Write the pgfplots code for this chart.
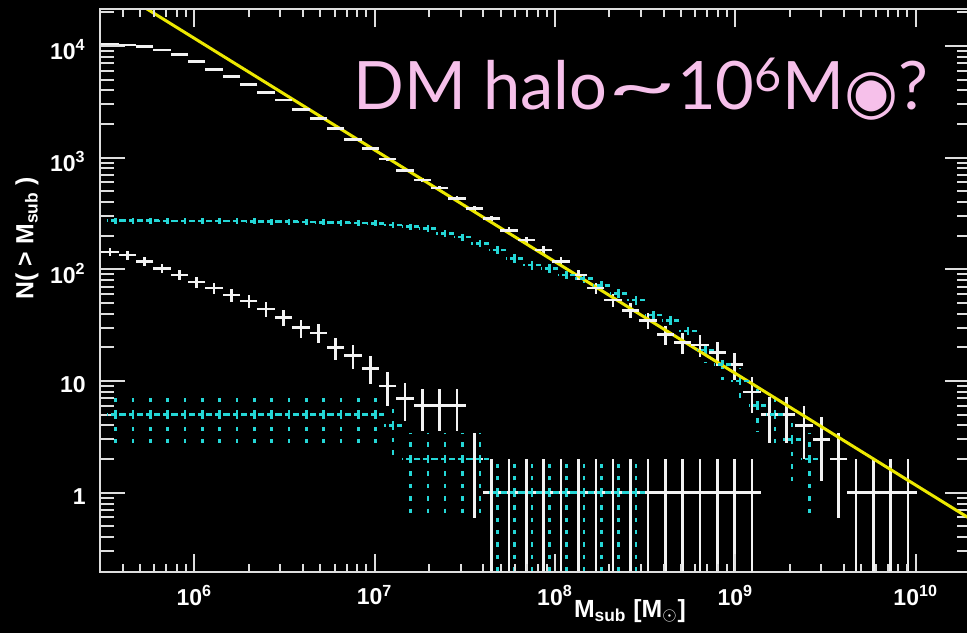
\documentclass[border=0pt]{standalone}
\usepackage{fontspec}
\setmainfont{Liberation Sans}
\newfontfamily\titlefont{Lato}
\newfontfamily\symbolfont{DejaVu Sans}
\usepackage{graphicx}
\usepackage{pgfplots}
\usepackage{pgfplotstable}
\pgfplotsset{compat=1.18}

\definecolor{framegray}{RGB}{222,222,222}
\definecolor{ptwhite}{RGB}{242,242,242}
\definecolor{ptcyan}{RGB}{36,214,214}
\definecolor{fityellow}{RGB}{236,232,0}
\definecolor{titlepink}{RGB}{246,192,234}

\tikzset{ticklab/.style={font=\bfseries\fontsize{11.5}{12}\selectfont, text=white, inner sep=0pt}}

% one bin of 0.0962 dex spans 8.68pt on this x scale: the '-' mark shows the bin width
\pgfplotsset{
  whitebins/.style={only marks, mark=-, mark size=4.34pt, ptwhite,
    mark options={line width=1.3pt, solid},
    error bars/.cd, y dir=both, y explicit, error mark=none,
    error bar style={ptwhite, line width=1.3pt, solid}},
  cyanbins/.style={only marks, mark=-, mark size=4.34pt, ptcyan,
    mark options={line width=1.3pt, dash pattern=on 2.5pt off 1.5pt},
    error bars/.cd, y dir=both, y explicit, error mark=none,
    error bar style={ptcyan, line width=1.3pt, dash pattern=on 2.2pt off 4pt}},
}

% cumulative subhalo counts: bin centre logM = log10(M_sub/M_sun),
% count y with Poisson errors ep (upper) and em (lower)
\pgfplotstableread{
logM y ep em
5.5326 10400 102 102
5.6288 10200 101 101
5.7250 9840 99 99
5.8212 9190 96 96
5.9174 8410 92 92
6.0136 7230 85 85
6.1098 6170 79 79
6.2060 5300 73 73
6.3022 4530 67 67
6.3984 3810 62 62
6.4946 3280 57 57
6.5908 2710 52 52
6.6870 2250 47 47
6.7832 1830 43 43
6.8794 1460 38 38
6.9756 1210 35 35
7.0718 970 31 31
7.1680 770 28 28
7.2642 630 25 25
7.3604 534 23 23
7.4566 433 21 21
7.5528 352 19 19
7.6490 286 17 17
7.7452 222 15 15
7.8414 183 13.5 13.5
7.9376 149 12.2 12.2
8.0338 117 10.8 10.8
8.1300 89 9.4 9.4
8.2262 68 8.2 8.2
8.3224 53 7.3 7.3
8.4186 43 6.6 6.6
8.5148 35 5.9 5.9
8.6110 26 5.1 5.1
8.7072 22 4.7 4.7
8.8034 21 4.6 4.6
8.8996 18 4.24 4.24
8.9958 14 3.74 3.74
9.0920 8 2.83 2.83
9.1882 5 2.24 2.24
9.2844 5 2.24 2.24
9.3806 4 2 2
9.4768 3 1.73 1.73
9.5730 2 1.41 1.41
9.6692 1 1 0.999
9.7654 1 1 0.999
9.8616 1 1 0.999
9.9578 1 1 0.999
}\whiteall

\pgfplotstableread{
logM y ep em
5.5326 143 12 12
5.6288 134 11.6 11.6
5.7250 117 10.8 10.8
5.8212 102 10.1 10.1
5.9174 89 9.4 9.4
6.0136 77 8.8 8.8
6.1098 68 8.2 8.2
6.2060 59 7.7 7.7
6.3022 52 7.2 7.2
6.3984 44 6.6 6.6
6.4946 37 6.1 6.1
6.5908 30 5.5 5.5
6.6870 27 5.2 5.2
6.7832 20 4.5 4.5
6.8794 17 4.1 4.1
6.9756 13 3.6 3.6
7.0718 9 3 3
7.1680 7 2.65 2.65
7.2642 6 2.45 2.45
7.3604 6 2.45 2.45
7.4566 6 2.45 2.45
7.5528 2 1.41 1.41
7.6490 1 1 0.999
7.7452 1 1 0.999
7.8414 1 1 0.999
7.9376 1 1 0.999
8.0338 1 1 0.999
8.1300 1 1 0.999
8.2262 1 1 0.999
8.3224 1 1 0.999
8.4186 1 1 0.999
8.5148 1 1 0.999
8.6110 1 1 0.999
8.7072 1 1 0.999
8.8034 1 1 0.999
8.8996 1 1 0.999
8.9958 1 1 0.999
9.0920 1 1 0.999
}\whitelum

\pgfplotstableread{
logM y ep em
5.5631 272 16.5 16.5
5.6593 272 16.5 16.5
5.7555 272 16.5 16.5
5.8517 271 16.5 16.5
5.9479 271 16.5 16.5
6.0441 271 16.5 16.5
6.1403 270 16.4 16.4
6.2365 270 16.4 16.4
6.3327 269 16.4 16.4
6.4289 268 16.4 16.4
6.5251 267 16.3 16.3
6.6213 266 16.3 16.3
6.7175 264 16.2 16.2
6.8137 262 16.2 16.2
6.9099 260 16.1 16.1
7.0061 258 16.1 16.1
7.1023 249 15.8 15.8
7.1985 241 15.5 15.5
7.2947 233 15.3 15.3
7.3909 210 14.5 14.5
7.4871 195 14 14
7.5833 171 13.1 13.1
7.6795 149 12.2 12.2
7.7757 125 11.2 11.2
7.8719 109 10.4 10.4
7.9681 102 10.1 10.1
8.0643 89 9.4 9.4
8.1605 83 9.1 9.1
8.2567 72 8.5 8.5
8.3529 61 7.8 7.8
8.4491 53 7.3 7.3
8.5453 39 6.2 6.2
8.6415 35 5.9 5.9
8.7377 28 5.3 5.3
8.8339 19 4.36 4.36
8.9301 14 3.74 3.74
9.0263 10 3.16 3.16
9.1225 6 2.45 2.45
9.2187 5 2.24 2.24
9.3149 3 1.73 1.73
9.4111 2 1.41 1.41
}\cyanall

\pgfplotstableread{
logM y ep em
5.5631 5 2.24 2.24
5.6593 5 2.24 2.24
5.7555 5 2.24 2.24
5.8517 5 2.24 2.24
5.9479 5 2.24 2.24
6.0441 5 2.24 2.24
6.1403 5 2.24 2.24
6.2365 5 2.24 2.24
6.3327 5 2.24 2.24
6.4289 5 2.24 2.24
6.5251 5 2.24 2.24
6.6213 5 2.24 2.24
6.7175 5 2.24 2.24
6.8137 5 2.24 2.24
6.9099 5 2.24 2.24
7.0061 5 2.24 2.24
7.1023 4 2 2
7.1985 2 1.41 1.41
7.2947 2 1.41 1.41
7.3909 2 1.41 1.41
7.4871 2 1.41 1.41
7.5833 2 1.41 1.41
7.6795 1 1 0.999
7.7757 1 1 0.999
7.8719 1 1 0.999
7.9681 1 1 0.999
8.0643 1 1 0.999
8.1605 1 1 0.999
8.2567 1 1 0.999
8.3529 1 1 0.999
8.4491 1 1 0.999
}\cyanlum

\begin{document}
\begin{tikzpicture}
\useasboundingbox (0,0) rectangle (483.5pt,316.5pt);
\fill[black] (0,0) rectangle (483.5pt,316.5pt);
\clip (0,0) rectangle (483.5pt,316.5pt);

% data axis (x holds log10 M) with the y ticks
\begin{axis}[
  at={(50pt,30.65pt)}, anchor=south west,
  scale only axis, width=435pt, height=281.1pt,
  ymode=log,
  xmin=5.4771, xmax=10.30103, ymin=0.1963, ymax=21184,
  axis line style={framegray, line width=1pt},
  tick style={framegray, line width=1pt},
  tick align=inside,
  xtick=\empty,
  ytick={1,10,100,1000,10000},
  yticklabels={1,10,10\textsuperscript{2},10\textsuperscript{3},10\textsuperscript{4}},
  minor ytick={0.3,0.4,0.5,0.6,0.7,0.8,0.9,2,3,4,5,6,7,8,9,20,30,40,50,60,70,80,90,200,300,400,500,600,700,800,900,2000,3000,4000,5000,6000,7000,8000,9000,20000},
  major tick length=12.75pt, minor tick length=6.75pt,
  yticklabel style={ticklab, anchor=east, xshift=-7pt, yshift=-2pt},
]
\addplot[whitebins] table[x=logM, y=y, y error plus=ep, y error minus=em] {\whiteall};
\addplot[whitebins] table[x=logM, y=y, y error plus=ep, y error minus=em] {\whitelum};
\addplot[cyanbins] table[x=logM, y=y, y error plus=ep, y error minus=em] {\cyanall};
\addplot[cyanbins] table[x=logM, y=y, y error plus=ep, y error minus=em] {\cyanlum};
% power law N ~ M^-1
\addplot[fityellow, line width=1.5pt] coordinates {(5.4771,39000) (10.30103,0.585)};
\end{axis}

% same frame, carrying the x ticks
\begin{axis}[
  at={(50pt,30.65pt)}, anchor=south west,
  scale only axis, width=435pt, height=281.1pt,
  ymode=log,
  xmin=5.4771, xmax=10.30103, ymin=0.1963, ymax=21184,
  axis line style={framegray, line width=1pt},
  tick style={framegray, line width=1pt},
  tick align=inside,
  ytick=\empty, yminorticks=false,
  xtick={6,7,8,9,10},
  xticklabels={10\textsuperscript{6},10\textsuperscript{7},10\textsuperscript{8},10\textsuperscript{9},10\textsuperscript{10}},
  minor xtick={5.60206,5.69897,5.77815,5.84510,5.90309,5.95424,
    6.30103,6.47712,6.60206,6.69897,6.77815,6.84510,6.90309,6.95424,
    7.30103,7.47712,7.60206,7.69897,7.77815,7.84510,7.90309,7.95424,
    8.30103,8.47712,8.60206,8.69897,8.77815,8.84510,8.90309,8.95424,
    9.30103,9.47712,9.60206,9.69897,9.77815,9.84510,9.90309,9.95424},
  major tick length=8.75pt, minor tick length=4pt,
  xticklabel style={ticklab, anchor=north, yshift=-6.5pt},
]
\addplot[draw=none] coordinates {(6,1)};
\end{axis}

\node[rotate=90, text=white, inner sep=0pt, font=\bfseries\fontsize{12.4}{13}\selectfont]
  at (13.5pt,197.5pt) {N( > M\textsubscript{sub} )};
\node[anchor=base, text=white, inner sep=0pt, font=\bfseries\fontsize{12.4}{13}\selectfont]
  at (315pt,8pt) {M\textsubscript{sub} [M\textsubscript{$\odot$}]};

\node[anchor=base west, inner sep=0pt, text=titlepink] at (176.5pt,261.5pt)
  {\titlefont\fontsize{33.4}{36}\selectfont DM halo\scalebox{1.8}[1]{\textasciitilde}10\textsuperscript{6}M\raisebox{-1.3pt}{\symbolfont\fontsize{31}{31}\selectfont ◉}?};
\end{tikzpicture}
\end{document}
